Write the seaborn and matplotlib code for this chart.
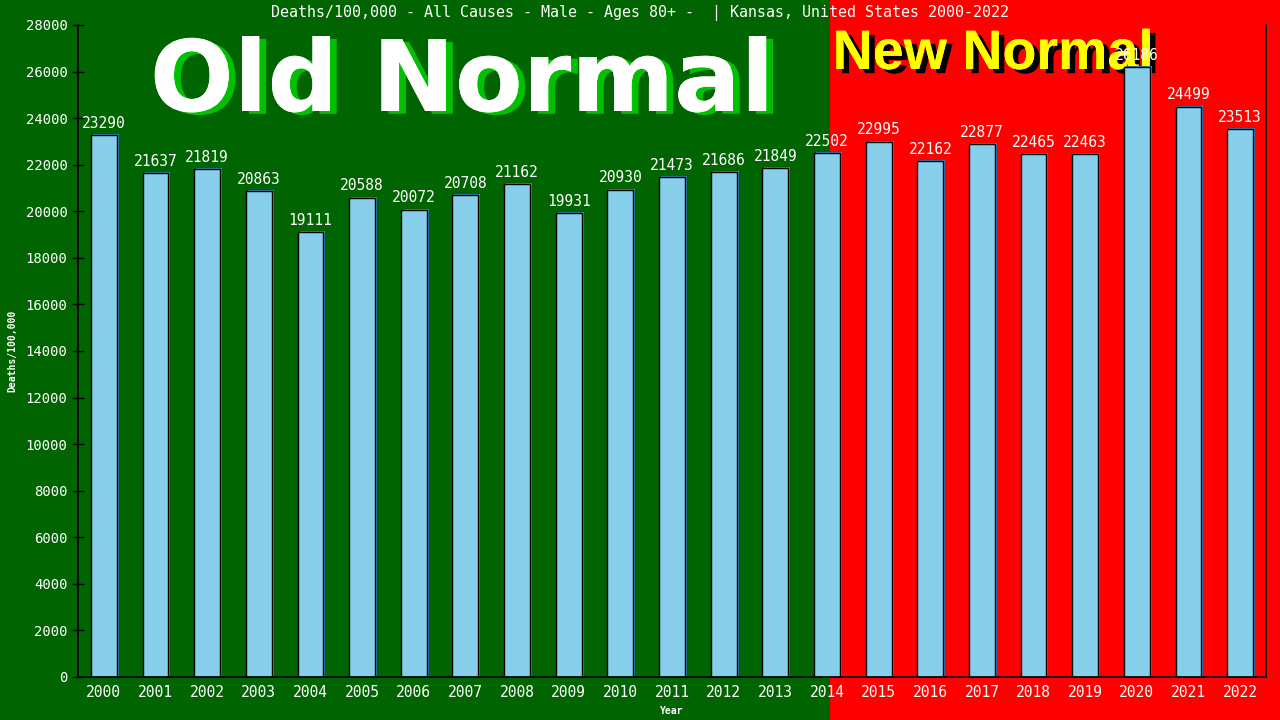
import matplotlib
matplotlib.use("Agg")
import matplotlib.pyplot as plt
import matplotlib.patches as mpatches
import matplotlib.transforms as mtransforms
import matplotlib.patheffects as pe
import seaborn as sns
import pandas as pd

years = [str(y) for y in range(2000, 2023)]
deaths = [23290, 21637, 21819, 20863, 19111, 20588, 20072, 20708, 21162, 19931,
          20930, 21473, 21686, 21849, 22502, 22995, 22162, 22877, 22465, 22463,
          26186, 24499, 23513]
yticks = list(range(0, 28001, 2000))
title = "Deaths/100,000 - All Causes - Male - Ages 80+ -  | Kansas, United States 2000-2022"

df = pd.DataFrame({"Year": years, "Deaths": deaths})

sns.set_theme(style="white")
plt.rcParams['font.family'] = ['DejaVu Sans Mono', 'DejaVu Sans']

fig = plt.figure(figsize=(12.8, 7.2), dpi=100)
fig.patch.set_facecolor("#006400")
split = 830 / 1280
fig.patches.append(mpatches.Rectangle((0, 0), split, 1, transform=fig.transFigure,
                                      facecolor="#006400", edgecolor="none", zorder=-10))
fig.patches.append(mpatches.Rectangle((split, 0), 1 - split, 1, transform=fig.transFigure,
                                      facecolor="#ff0000", edgecolor="none", zorder=-10))

ax = fig.add_axes([78 / 1280, 1 - 677 / 720, (1266 - 78) / 1280, (677 - 25) / 720])
ax.set_facecolor("none")
ax.set_zorder(5)

# shadow bars
shadow_tr = mtransforms.offset_copy(ax.transData, fig=fig, x=2, y=1, units="dots")
ax.bar(range(len(years)), deaths, width=0.5, color="#3f7fbf", edgecolor="none",
       transform=shadow_tr, zorder=1)

sns.barplot(data=df, x="Year", y="Deaths", ax=ax, color="#87ceeb", width=0.5,
            saturation=1, edgecolor="black", linewidth=1, zorder=2)

for i, v in enumerate(deaths):
    ax.annotate(str(v), (i, v), xytext=(0, 3), textcoords="offset points",
                ha="center", va="bottom", color="white", fontsize=10.5, zorder=5)

ax.set_xlim(-0.5, 22.5)
ax.set_ylim(0, 28000)
ax.set_yticks(yticks)
ax.set_yticklabels([str(t) for t in yticks])
ax.tick_params(axis="y", colors="white", labelsize=10, direction="inout", length=8,
               width=1, color="black", left=True)
ax.tick_params(axis="x", colors="white", labelsize=10.5, length=0, pad=6)
for t in ax.get_yticklines():
    t.set_color("black")

for s in ["left", "bottom", "right"]:
    ax.spines[s].set_visible(True)
    ax.spines[s].set_color("black")
    ax.spines[s].set_linewidth(1.2)
ax.spines["top"].set_visible(False)

ax.set_xlabel("Year", color="white", fontsize=7, fontweight="bold", labelpad=4)
ax.set_ylabel("Deaths/100,000", color="white", fontsize=7, fontweight="bold", labelpad=6)

fig.text(0.5, 1 - 13 / 720, title, color="white", fontsize=10.8, ha="center", va="center")

fig.text(462 / 1280, 1 - 111 / 720, "Old Normal", color="white", fontsize=71,
         fontweight="bold", family="DejaVu Sans", ha="center", va="baseline",
         path_effects=[pe.withSimplePatchShadow(offset=(5, -2), shadow_rgbFace="#00c000",
                                                alpha=1.0), pe.Normal()])
fig.text(993 / 1280, 1 - 69 / 720, "New Normal", color="#ffff00", fontsize=40,
         fontweight="bold", family="Liberation Sans", ha="center", va="baseline",
         path_effects=[pe.withSimplePatchShadow(offset=(4, -3), shadow_rgbFace="black",
                                                alpha=1.0), pe.Normal()])

fig.savefig("out.png", dpi=100, facecolor=fig.get_facecolor())
